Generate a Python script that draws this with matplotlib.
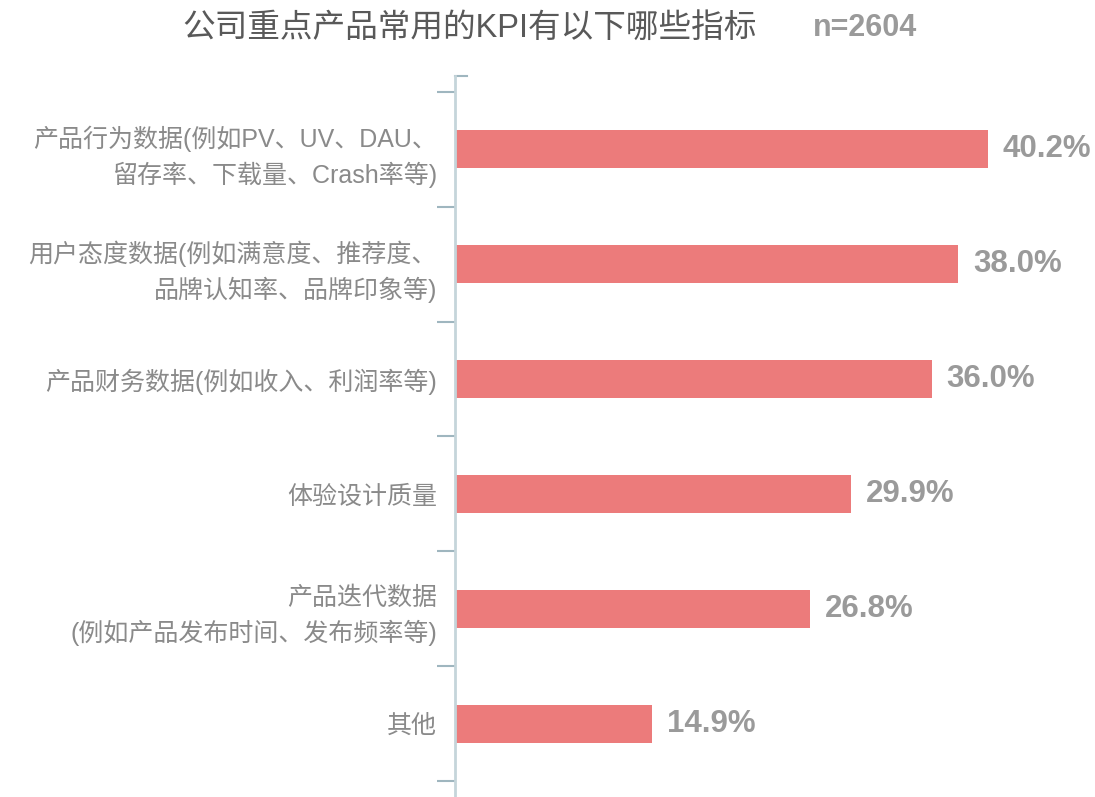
import numpy as np
import matplotlib
matplotlib.use("Agg")
import matplotlib.pyplot as plt

plt.rcParams['font.family'] = ['Liberation Sans', 'Noto Sans CJK SC', 'DejaVu Sans']

categories = [
    "产品行为数据(例如PV、UV、DAU、\n留存率、下载量、Crash率等)",
    "用户态度数据(例如满意度、推荐度、\n品牌认知率、品牌印象等)",
    "产品财务数据(例如收入、利润率等)",
    "体验设计质量",
    "产品迭代数据\n(例如产品发布时间、发布频率等)",
    "其他",
]
values = [40.2, 38.0, 36.0, 29.9, 26.8, 14.9]
value_labels = ["40.2%", "38.0%", "36.0%", "29.9%", "26.8%", "14.9%"]

title = "公司重点产品常用的KPI有以下哪些指标"
sample = "n=2604"

bar_color = "#ec7b7b"
label_color = "#8a8a8a"
value_color = "#9a9a9a"
spine_color = "#c5d5da"
tick_color = "#9fb6bf"

fig = plt.figure(figsize=(10.95, 7.97), dpi=100)
ax = fig.add_axes([455 / 1095, 0, 636 / 1095, 721 / 797])

pos = np.arange(len(categories))
ax.barh(pos, values, height=0.33, color=bar_color, zorder=2)

for p, v, lab in zip(pos, values, value_labels):
    ax.text(v + 1.1, p, lab, va="center", ha="left", fontsize=22.5,
            fontweight="bold", color=value_color)

ax.set_xlim(0, 48)
ax.set_ylim(5.5 + 16 / 115.4, -0.5 - 16 / 115.4)

# tick marks sit between categories, labels at the category centres
ax.set_yticks(np.arange(-0.5, len(categories), 1.0))
ax.set_yticklabels([])
ax.set_yticks(pos, minor=True)
ax.set_yticklabels(categories, minor=True, fontsize=18, color=label_color,
                   linespacing=1.45, ha="right")
ax.tick_params(axis="y", which="major", length=13, width=1.5, color=tick_color)
ax.tick_params(axis="y", which="minor", length=0, pad=13)
ax.set_xticks([])

for s in ["top", "right", "bottom"]:
    ax.spines[s].set_visible(False)
ax.spines["left"].set_color(spine_color)
ax.spines["left"].set_linewidth(2)

# small stub at the top of the axis line
ax.plot([0, 12 / 636], [1, 1], transform=ax.transAxes, color=tick_color,
        lw=1.5, clip_on=False)

fig.text(470 / 1095, 1 - 28 / 797, title, ha="center", va="center",
         fontsize=23.5, color="#595959")
fig.text(865 / 1095, 1 - 28 / 797, sample, ha="center", va="center",
         fontsize=22, fontweight="bold", color=value_color)

fig.savefig("out.png", dpi=100)
